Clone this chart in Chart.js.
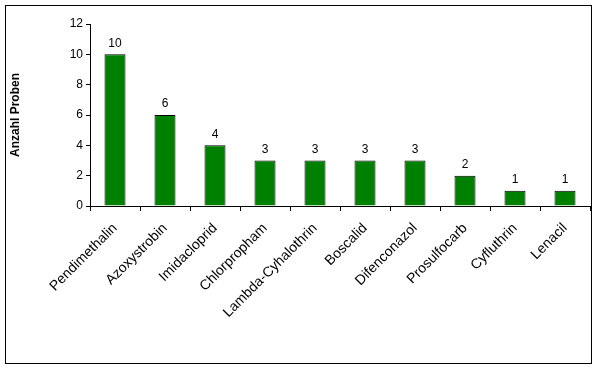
<!DOCTYPE html>
<html>
<head>
<meta charset="utf-8">
<script src="https://cdn.jsdelivr.net/npm/chart.js@4"></script>
<style>
html,body{margin:0;padding:0;background:#fff;}
#wrap{width:597px;height:368px;position:relative;}
</style>
</head>
<body>
<div id="wrap"><canvas id="c" width="597" height="368"></canvas></div>
<script>
const categories = ["Pendimethalin","Azoxystrobin","Imidacloprid","Chlorpropham","Lambda-Cyhalothrin","Boscalid","Difenconazol","Prosulfocarb","Cyfluthrin","Lenacil"];
const values = [10,6,4,3,3,3,3,2,1,1];
const yTitle = "Anzahl Proben";

const frame = {
  id:'frame',
  afterDraw(chart){
    const ctx = chart.ctx;
    ctx.save();
    ctx.strokeStyle = '#000';
    ctx.lineWidth = 1;
    ctx.strokeRect(5.5,5.5,586,358);
    ctx.restore();
  }
};
const valueLabels = {
  id:'valueLabels',
  afterDatasetsDraw(chart){
    const ctx = chart.ctx;
    const meta = chart.getDatasetMeta(0);
    ctx.save();
    ctx.font = '12px "Liberation Sans", Arial, sans-serif';
    ctx.fillStyle = '#000';
    ctx.textAlign = 'center';
    ctx.textBaseline = 'bottom';
    meta.data.forEach((bar,i)=>{
      ctx.fillText(String(values[i]), bar.x, bar.y - 5);
    });
    ctx.restore();
  }
};

Chart.defaults.font.family = '"Liberation Sans", Arial, sans-serif';
Chart.defaults.color = '#000';

new Chart(document.getElementById('c'), {
  type:'bar',
  data:{
    labels: categories,
    datasets:[{
      data: values,
      backgroundColor:'#008000',
      borderColor:'#000',
      borderWidth:1,
      borderSkipped:'bottom',
      categoryPercentage:1.0,
      barPercentage:0.42
    }]
  },
  options:{
    responsive:false,
    animation:false,
    devicePixelRatio:1,
    layout:{padding:{left:0,top:24,right:7,bottom:0}},
    plugins:{legend:{display:false},tooltip:{enabled:false}},
    scales:{
      x:{
        grid:{display:true,drawOnChartArea:false,drawTicks:true,tickLength:5,color:'#000',offset:true},
        border:{display:true,color:'#000'},
        ticks:{maxRotation:45,minRotation:45,font:{size:14},color:'#000',padding:9},
        afterFit(s){ s.height = 162; }
      },
      y:{
        min:0,max:12,
        grid:{display:true,drawOnChartArea:false,drawTicks:true,tickLength:4,color:'#000'},
        border:{display:true,color:'#000'},
        ticks:{stepSize:2,font:{size:12},color:'#000',padding:3},
        title:{display:true,text:yTitle,font:{size:12,weight:'bold'},color:'#000',padding:{top:8,bottom:0}},
        afterFit(s){ s.width = 90; }
      }
    }
  },
  plugins:[frame,valueLabels]
});
</script>
</body>
</html>
